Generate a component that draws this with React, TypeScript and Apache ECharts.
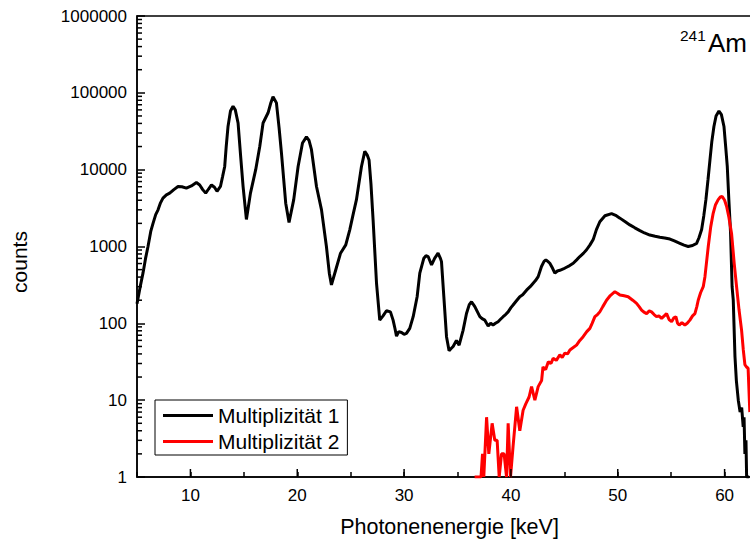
import React, { useEffect, useRef } from 'react';
import * as echarts from 'echarts';

// Multiplizität 1 (black)
const energy1 = [
  5.0, 5.3, 5.56, 5.8, 6.03, 6.3, 6.5, 6.75, 6.97, 7.2, 7.43, 7.75, 8.06, 8.45, 8.84, 9.2, 9.62,
  10.09, 10.56, 10.87, 11.15, 11.43, 11.7, 11.97, 12.25, 12.49, 12.81, 13.0, 13.21, 13.35, 13.52,
  13.75, 13.99, 14.2, 14.46, 14.7, 14.93, 15.24, 15.62, 16.11, 16.49, 16.8, 17.27, 17.5, 17.73,
  18.05, 18.3, 18.52, 18.92, 19.23, 19.67, 20.08, 20.49, 20.86, 21.1, 21.33, 21.8, 22.27, 22.73,
  23.0, 23.2, 23.6, 24.05, 24.54, 24.92, 25.2, 25.54, 26.01, 26.32, 26.55, 26.72, 26.9, 27.1,
  27.42, 27.72, 28.03, 28.35, 28.72, 28.97, 29.15, 29.29, 29.5, 29.76, 30.0, 30.22, 30.53, 30.85,
  31.22, 31.47, 31.85, 32.05, 32.25, 32.57, 32.87, 33.18, 33.4, 33.5, 33.72, 33.97, 34.21, 34.4,
  34.59, 34.9, 35.15, 35.52, 35.84, 36.1, 36.31, 36.62, 37.09, 37.3, 37.56, 37.87, 38.1, 38.33,
  38.55, 38.8, 39.0, 39.27, 39.5, 39.74, 40.0, 40.2, 40.5, 40.83, 41.1, 41.46, 41.8, 42.08, 42.3,
  42.55, 42.86, 43.1, 43.27, 43.45, 43.64, 43.9, 44.11, 44.35, 44.58, 44.9, 45.2, 45.5, 45.83,
  46.15, 46.45, 46.8, 47.08, 47.4, 47.7, 48.0, 48.32, 48.8, 49.42, 49.8, 50.2, 50.7, 51.13, 51.6,
  52.07, 52.5, 53.0, 53.5, 53.94, 54.4, 54.88, 55.3, 55.81, 56.2, 56.59, 57.0, 57.38, 57.6, 57.85,
  58.05, 58.25, 58.45, 58.63, 58.8, 59.0, 59.2, 59.47, 59.7, 59.94, 60.1, 60.25, 60.4, 60.56,
  60.7, 60.81, 60.97, 61.1, 61.28, 61.45, 61.6, 61.74, 61.82, 61.9, 62.0, 62.06, 62.3,
];
const counts1 = [
  180, 300, 450, 700, 1000, 1600, 2000, 2600, 3000, 3700, 4270, 4700, 4950, 5500, 6040, 6000, 5760,
  6150, 6800, 6320, 5500, 4950, 5600, 6320, 5900, 5230, 6040, 8000, 11000, 20000, 36500,
  58000, 67000, 60000, 40500, 15000, 6000, 2250, 4950, 10000, 20000, 40500, 55000, 72000, 89000,
  74000, 35000, 16500, 3660, 2050, 4070, 11000, 22200, 26700, 24000, 18200, 6040, 3000, 1000,
  450, 316, 495, 818, 1050, 1660, 2500, 4070, 11000, 17300, 15500, 13400, 6500, 2200,
  330, 110, 125, 146, 141, 110, 85, 68, 78, 76, 72, 74, 86, 122,
  222, 450, 705, 760, 740, 575, 705, 818, 700, 635, 222, 67, 44, 47,
  50, 60, 52, 81, 134, 175, 191, 165, 122, 115, 110, 92, 100, 95,
  100, 105, 112, 122, 130, 141, 160, 173, 195, 222, 235, 270, 300, 333, 360,
  405, 550, 640, 670, 640, 605, 520, 450, 480, 490, 510, 537, 565, 605,
  670, 740, 820, 907, 1050, 1230, 1660, 2100, 2510, 2680, 2550, 2340, 2100, 1910, 1750,
  1610, 1500, 1410, 1360, 1320, 1290, 1250, 1180, 1100, 1040, 1000, 1030, 1100, 1300, 1660,
  2500, 4070, 7500, 13400, 23000, 36500, 50000, 58000, 52000, 36500, 20000, 11000, 4000, 1480,
  300, 200, 37, 18, 10, 7, 8, 4.5, 6, 2, 3, 1, 1,
];

// Multiplizität 2 (red)
const energy2 = [
  36.6, 36.95, 37.2, 37.34, 37.46, 37.72, 37.93, 38.24, 38.49, 38.71, 38.9, 39.12, 39.36, 39.59,
  39.74, 39.96, 40.2, 40.53, 40.83, 41.14, 41.4, 41.7, 41.93, 42.24, 42.55, 42.87, 43.0, 43.25,
  43.5, 43.75, 43.95, 44.25, 44.58, 44.8, 45.05, 45.3, 45.52, 45.8, 46.14, 46.45, 46.76, 47.1,
  47.39, 47.6, 47.86, 48.1, 48.32, 48.6, 48.95, 49.3, 49.73, 50.0, 50.2, 50.6, 50.97, 51.4, 51.76,
  52.0, 52.23, 52.45, 52.7, 52.95, 53.16, 53.4, 53.63, 53.85, 54.1, 54.35, 54.57, 54.8, 55.04,
  55.25, 55.44, 55.6, 55.75, 56.0, 56.28, 56.5, 56.75, 57.0, 57.22, 57.4, 57.53, 57.75, 58.0,
  58.16, 58.47, 58.7, 58.93, 59.15, 59.4, 59.6, 59.78, 60.0, 60.19, 60.4, 60.65, 60.9, 61.12,
  61.35, 61.59, 61.75, 61.9, 62.05, 62.2, 62.36,
];
const counts2 = [
  1, 1, 1, 2, 1, 6, 2, 5, 3, 3, 1, 2, 2, 1,
  5, 1, 2.5, 8.2, 4, 7.4, 9, 11, 15, 10, 15, 18, 27, 25,
  31.6, 30, 35, 33, 39, 36, 41, 40, 45, 48, 52, 60, 67, 78,
  86, 100, 122, 130, 141, 165, 200, 230, 258, 245, 234, 228, 222, 200, 182,
  165, 149, 140, 134, 145, 141, 130, 122, 125, 116, 125, 134, 112, 105,
  118, 122, 100, 95, 102, 95, 100, 110, 125, 134, 165, 200, 250, 300,
  405, 1000, 1800, 2700, 3500, 4070, 4400, 4470, 4000, 3310, 2400, 1480, 600, 300,
  150, 81, 45, 29, 27, 26, 7,
];

const seriesNames = ['Multiplizität 1', 'Multiplizität 2'];
const xMajorTicks = [10, 20, 30, 40, 50, 60];
const yDecades = [1, 10, 100, 1000, 10000, 100000];
const yMinorMultipliers = [2, 3, 4, 5, 6, 7, 8, 9];

const X_MIN = 5;
const X_MAX = 63.5;
const FONT = '"Liberation Sans", Arial, Helvetica, sans-serif';

export default function App() {
  const ref = useRef<HTMLDivElement>(null);

  useEffect(() => {
    if (!ref.current) return;
    const chart = echarts.init(ref.current, undefined, { renderer: 'svg' });

    const yMinorTicks: number[][] = [];
    yDecades.forEach((d) => yMinorMultipliers.forEach((m) => yMinorTicks.push([X_MIN, m * d])));

    const line1 = energy1.map((e, i) => [e, counts1[i]]);
    const line2 = energy2.map((e, i) => [e, counts2[i]]);

    chart.setOption({
      animation: false,
      backgroundColor: '#fff',
      grid: {
        left: 137,
        top: 16,
        width: 625,
        bottom: 64,
        outerBoundsMode: 'none',
        containLabel: false,
        show: true,
        borderColor: '#000',
        borderWidth: 1.5,
        backgroundColor: 'transparent',
      },
      legend: {
        data: seriesNames,
        orient: 'vertical',
        left: 155,
        top: 400,
        padding: [5, 8, 3, 8],
        itemGap: 5,
        itemWidth: 50,
        itemHeight: 3,
        icon: 'rect',
        borderColor: '#000',
        borderWidth: 1,
        backgroundColor: '#fff',
        textStyle: { fontSize: 21, fontFamily: FONT, color: '#000' },
      },
      xAxis: {
        type: 'value',
        min: X_MIN,
        max: X_MAX,
        interval: 5,
        axisLine: { show: true, onZero: false, lineStyle: { color: '#000', width: 1.5 } },
        axisTick: { show: true, inside: true, length: 5, lineStyle: { color: '#000', width: 1.5 } },
        axisLabel: {
          margin: 10,
          fontSize: 17,
          fontFamily: FONT,
          color: '#000',
          showMaxLabel: false,
          formatter: (v: number) => (v % 10 === 0 ? String(v) : ''),
        },
        splitLine: { show: false },
      },
      yAxis: {
        type: 'log',
        logBase: 10,
        min: 1,
        max: 1000000,
        splitNumber: 6,
        axisLine: { show: true, lineStyle: { color: '#000', width: 1.5 } },
        axisTick: { show: true, inside: true, length: 8, lineStyle: { color: '#000', width: 1.5 } },
        axisLabel: {
          margin: 10,
          fontSize: 17,
          fontFamily: FONT,
          color: '#000',
          formatter: (v: number) => String(Math.round(v)),
        },
        splitLine: { show: false },
      },
      graphic: [
        {
          type: 'text',
          x: 449.5,
          y: 527,
          style: {
            text: 'Photonenenergie [keV]',
            fontSize: 21.5,
            fontFamily: FONT,
            fill: '#000',
            align: 'center',
            verticalAlign: 'middle',
          },
        },
        {
          type: 'text',
          x: 19,
          y: 262,
          rotation: Math.PI / 2,
          style: {
            text: 'counts',
            fontSize: 21,
            fontFamily: FONT,
            fill: '#000',
            align: 'center',
            verticalAlign: 'middle',
          },
        },
        {
          type: 'text',
          x: 680,
          y: 35.6,
          style: {
            text: '241',
            fontSize: 15.5,
            fontFamily: FONT,
            fill: '#000',
            align: 'left',
            verticalAlign: 'middle',
          },
        },
        {
          type: 'text',
          x: 708,
          y: 42.7,
          style: {
            text: 'Am',
            fontSize: 26,
            fontFamily: FONT,
            fill: '#000',
            align: 'left',
            verticalAlign: 'middle',
          },
        },
      ],
      series: [
        {
          name: seriesNames[0],
          type: 'line',
          data: line1,
          showSymbol: false,
          symbol: 'none',
          color: '#000',
          lineStyle: { color: '#000', width: 3 },
          z: 3,
        },
        {
          name: seriesNames[1],
          type: 'line',
          data: line2,
          showSymbol: false,
          symbol: 'none',
          color: '#ff0000',
          lineStyle: { color: '#ff0000', width: 3 },
          z: 3,
        },
        {
          name: 'yMinorTicks',
          type: 'custom',
          silent: true,
          clip: false,
          z: 5,
          encode: { x: 0, y: 1 },
          data: yMinorTicks,
          renderItem: (_params: any, api: any) => {
            const p = api.coord([api.value(0), api.value(1)]);
            return {
              type: 'line',
              shape: { x1: p[0], y1: p[1], x2: p[0] + 5, y2: p[1] },
              style: { stroke: '#000', lineWidth: 1.5 },
            };
          },
        },
        {
          name: 'xMajorTicks',
          type: 'custom',
          silent: true,
          clip: false,
          z: 5,
          encode: { x: 0, y: 1 },
          data: xMajorTicks.map((t) => [t, 1]),
          renderItem: (_params: any, api: any) => {
            const p = api.coord([api.value(0), api.value(1)]);
            return {
              type: 'line',
              shape: { x1: p[0], y1: p[1], x2: p[0], y2: p[1] - 8 },
              style: { stroke: '#000', lineWidth: 1.5 },
            };
          },
        },
      ],
    });

    return () => chart.dispose();
  }, []);

  return (
    <div
      ref={ref}
      style={{ position: 'fixed', left: 0, top: 0, width: 750, height: 541, background: '#fff' }}
    />
  );
}
